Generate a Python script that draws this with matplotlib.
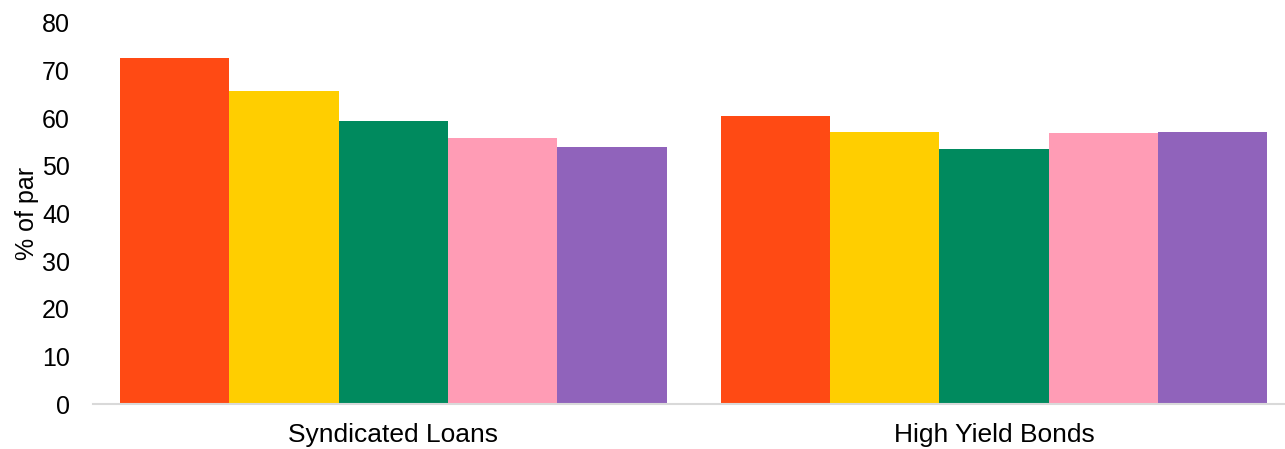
import matplotlib
matplotlib.use("Agg")
import matplotlib.pyplot as plt
import numpy as np

plt.rcParams['font.family'] = ['Liberation Sans', 'DejaVu Sans']

categories = ["Syndicated Loans", "High Yield Bonds"]
series_1 = [72.6, 60.5]
series_2 = [65.7, 57.1]
series_3 = [59.5, 53.6]
series_4 = [55.8, 56.9]
series_5 = [53.9, 57.1]
series = [series_1, series_2, series_3, series_4, series_5]
colors = ["#FF4A14", "#FFCE00", "#008A5E", "#FF9CB5", "#9063BB"]
yticks = [0, 10, 20, 30, 40, 50, 60, 70, 80]

fig = plt.figure(figsize=(12.85, 4.49), dpi=100)
ax = fig.add_axes([93/1285, 45/449, 1201.5/1285, 381/449])

n = len(series)
group_w = 0.91
bw = group_w / n
x = np.arange(len(categories))
for i, (vals, c) in enumerate(zip(series, colors)):
    ax.bar(x - group_w/2 + bw*(i+0.5), vals, width=bw, color=c, edgecolor='none')

ax.set_xlim(-0.5, 1.5)
ax.set_ylim(0, 80)
ax.set_yticks(yticks)
ax.set_yticklabels([str(t) for t in yticks], fontsize=18)
ax.set_xticks(x)
ax.set_xticklabels(categories, fontsize=19)
ax.tick_params(axis='both', length=0)
ax.tick_params(axis='y', pad=16.5)
ax.tick_params(axis='x', pad=14)
for s in ['top', 'right', 'left']:
    ax.spines[s].set_visible(False)
ax.spines['bottom'].set_color('#d9d9d9')
ax.spines['bottom'].set_linewidth(1.5)
ax.set_ylabel("% of par", fontsize=18, labelpad=2)

fig.savefig("out.png", dpi=100)
